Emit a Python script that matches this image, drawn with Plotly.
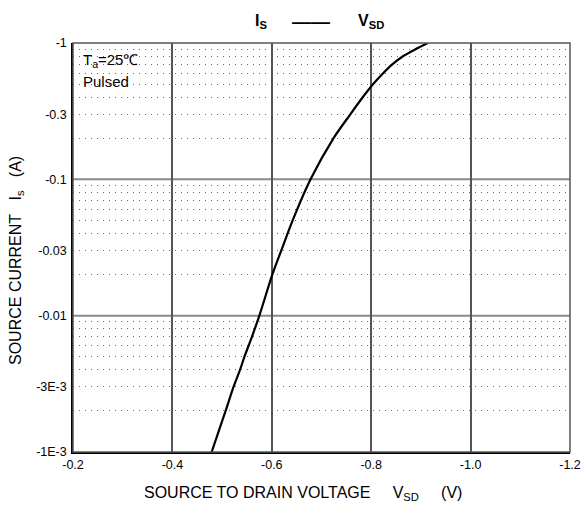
import plotly.graph_objects as go

# Data (V_SD in volts, I_S in amperes, negative values)
vsd = [-0.479, -0.507, -0.523, -0.536, -0.545, -0.560, -0.575, -0.601, -0.619,
       -0.642, -0.678, -0.724, -0.758, -0.783, -0.804, -0.824, -0.843, -0.864,
       -0.889, -0.914]
i_s = [-0.001, -0.002, -0.003, -0.004, -0.005, -0.007, -0.01, -0.02, -0.03,
       -0.05, -0.1, -0.2, -0.3, -0.4, -0.5, -0.6, -0.7, -0.8, -0.9, -1.0]

x_ticks = [-0.2, -0.4, -0.6, -0.8, -1.0, -1.2]
x_ticktext = ["-0.2", "-0.4", "-0.6", "-0.8", "-1.0", "-1.2"]
y_ticks = [1, 0.3, 0.1, 0.03, 0.01, 0.003, 0.001]
y_ticktext = ["-1", "-0.3", "-0.1", "-0.03", "-0.01", "-3E-3", "-1E-3"]
decades = [0.1, 0.01]
minor_vals = [m * d for d in [0.001, 0.01, 0.1] for m in range(2, 10)]

FONT = "Liberation Sans, Arial, sans-serif"
NB = "\u00a0"

fig = go.Figure()
fig.add_trace(go.Scatter(
    x=vsd, y=[-v for v in i_s], mode="lines", line_shape="spline",
    line=dict(color="black", width=2.2, smoothing=0.8), hoverinfo="skip",
    showlegend=False))

shapes = []
for d in decades:
    shapes.append(dict(type="line", xref="paper", x0=0, x1=1, yref="y", y0=d, y1=d,
                       line=dict(color="#8a8a8a", width=2), layer="below"))
# white box behind the condition text
shapes.append(dict(type="rect", xref="paper", yref="paper", x0=0.002, x1=0.147,
                   y0=0.885, y1=0.997, fillcolor="white", line=dict(width=0),
                   layer="below"))
# plot frame (top/right in grey)
shapes.append(dict(type="rect", xref="paper", yref="paper", x0=0, x1=1, y0=0, y1=1,
                   line=dict(color="#555555", width=1.5), layer="above"))


def px(x):
    return (x - 73) / 497


def py(y):
    return (452 - y) / 409


fig.update_layout(
    width=581, height=506,
    margin=dict(l=73, r=11, t=43, b=54, autoexpand=False),
    paper_bgcolor="white", plot_bgcolor="white",
    font=dict(family=FONT, size=12.5, color="black"),
    shapes=shapes,
    xaxis=dict(
        range=[-0.2, -1.2], tickmode="array", tickvals=x_ticks, ticktext=x_ticktext,
        showgrid=True, gridcolor="#555555", gridwidth=1.5, automargin=False,
        showline=True, linecolor="black", linewidth=1.5, ticks="",
        zeroline=False, tickfont=dict(size=12.5)),
    yaxis=dict(
        type="log", range=[-3, 0], tickmode="array", tickvals=y_ticks,
        ticktext=y_ticktext, showgrid=False, automargin=False,
        showline=True, linecolor="black", linewidth=1.5, ticks="",
        zeroline=False, tickfont=dict(size=12.5), ticklabelstandoff=2,
        minor=dict(tickmode="array", tickvals=minor_vals, showgrid=True,
                   gridcolor="#6a6a6a", gridwidth=1, griddash="1px,5px", ticks="")),
    annotations=[
        dict(text="<b>I<sub>S</sub></b>", xref="paper", yref="paper",
             x=px(253), y=py(21), showarrow=False, font=dict(size=16),
             xanchor="left", yanchor="middle"),
        dict(text="<b>\u2014\u2014</b>", xref="paper", yref="paper",
             x=px(311), y=py(21), showarrow=False, font=dict(size=19),
             xanchor="center", yanchor="middle"),
        dict(text="<b>V<sub>SD</sub></b>", xref="paper", yref="paper",
             x=px(356), y=py(21), showarrow=False, font=dict(size=16),
             xanchor="left", yanchor="middle"),
        dict(text="T<sub>a</sub>=25\u2103", xref="paper", yref="paper",
             x=px(81), y=py(60), showarrow=False, xanchor="left",
             yanchor="middle", font=dict(size=15)),
        dict(text="Pulsed", xref="paper", yref="paper",
             x=px(81), y=py(81), showarrow=False, xanchor="left",
             yanchor="middle", font=dict(size=15)),
        dict(text="SOURCE TO DRAIN VOLTAGE" + NB * 5 + "V<sub>SD</sub>" + NB * 5 + "(V)",
             xref="paper", yref="paper", x=px(302.5), y=py(493), showarrow=False,
             xanchor="center", yanchor="middle", font=dict(size=16)),
        dict(text="SOURCE CURRENT" + NB * 3 + "I<sub>s</sub>" + NB * 3 + "(A)",
             xref="paper", yref="paper", x=px(16), y=py(261), showarrow=False,
             textangle=-90, xanchor="center", yanchor="middle", font=dict(size=16)),
    ],
)

fig.write_html("out.html")
